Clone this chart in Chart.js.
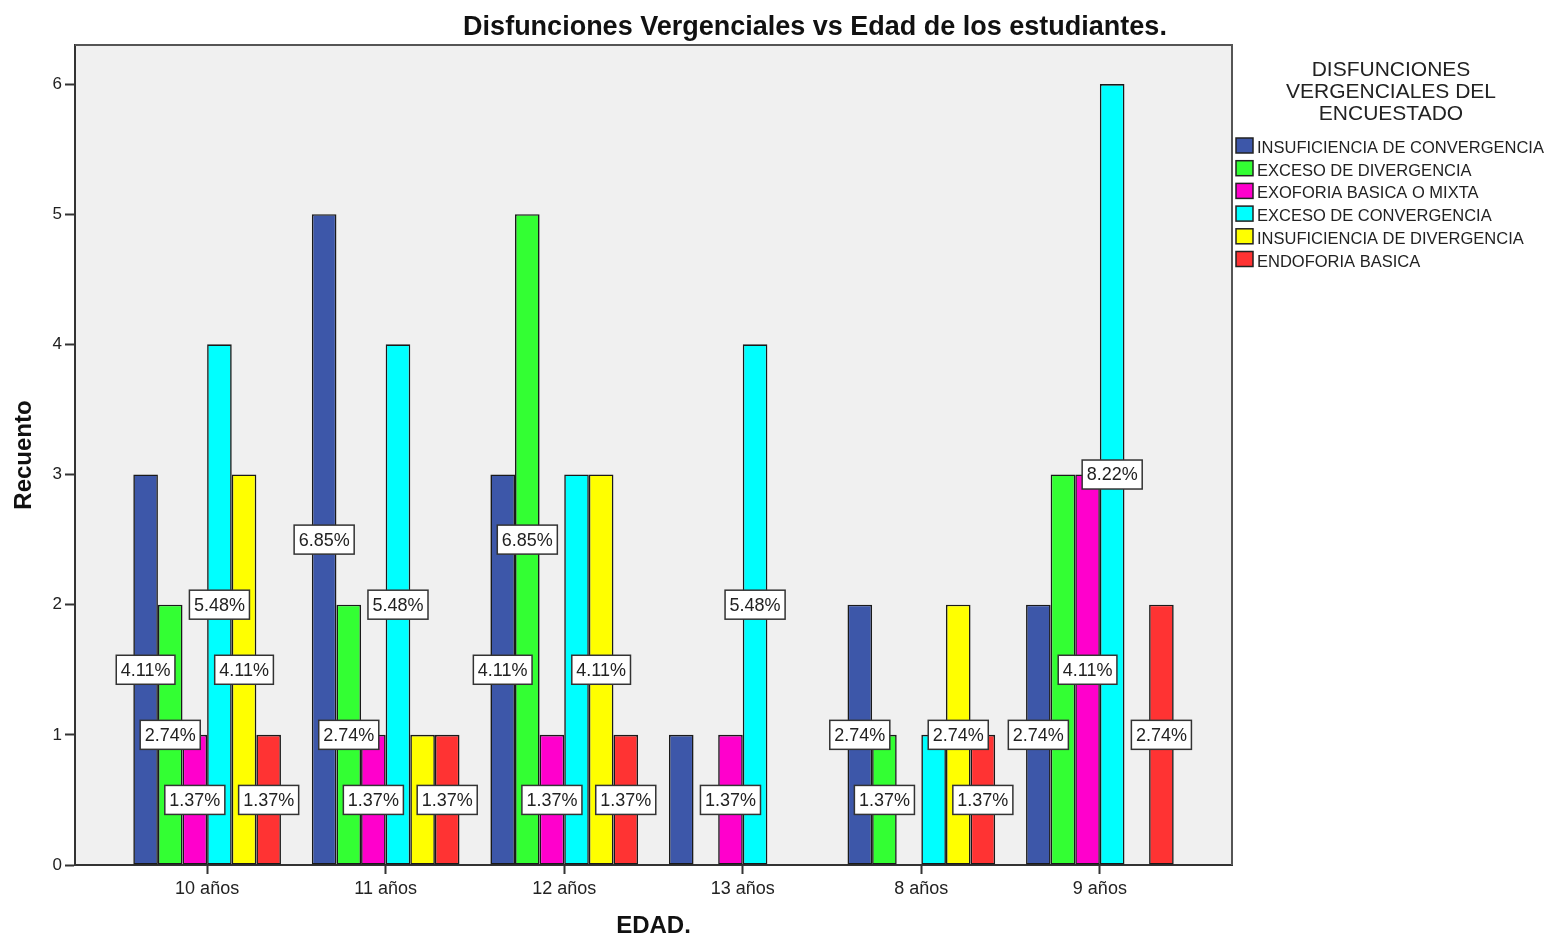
<!DOCTYPE html>
<html>
<head>
<meta charset="utf-8">
<title>Disfunciones Vergenciales vs Edad</title>
<script src="https://cdn.jsdelivr.net/npm/chart.js@4.4.1/dist/chart.umd.min.js"></script>
<style>
  html, body { margin: 0; padding: 0; background: #fff; }
  #wrap { width: 1548px; height: 941px; }
</style>
</head>
<body>
<div id="wrap"><canvas id="edadChart" width="1548" height="941"></canvas></div>
<script>
// Age groups, in the order the original chart shows them
const edades = ['10 años', '11 años', '12 años', '13 años', '8 años', '9 años'];

// Counts per disfunction, one value per age group
const insufConvergencia  = [3, 5, 3, 1, 2, 2];
const excesoDivergencia  = [2, 2, 5, 0, 1, 3];
const exoforiaBasica     = [1, 1, 1, 1, 0, 3];
const excesoConvergencia = [4, 4, 3, 4, 1, 6];
const insufDivergencia   = [3, 1, 3, 0, 2, 0];
const endoforiaBasica    = [1, 1, 1, 0, 1, 2];

const yTicks = [0, 1, 2, 3, 4, 5, 6];

const series = [
    { name: 'INSUFICIENCIA DE CONVERGENCIA', values: insufConvergencia, color: '#3d57a9' },
    { name: 'EXCESO DE DIVERGENCIA', values: excesoDivergencia, color: '#33ff33' },
    { name: 'EXOFORIA BASICA O MIXTA', values: exoforiaBasica, color: '#ff00cc' },
    { name: 'EXCESO DE CONVERGENCIA', values: excesoConvergencia, color: '#00ffff' },
    { name: 'INSUFICIENCIA DE DIVERGENCIA', values: insufDivergencia, color: '#ffff00' },
    { name: 'ENDOFORIA BASICA', values: endoforiaBasica, color: '#ff3333' }
];

const legendTitle = ['DISFUNCIONES', 'VERGENCIALES DEL', 'ENCUESTADO'];
const chartTitle = 'Disfunciones Vergenciales vs Edad de los estudiantes.';

const FONT = '"Liberation Sans", Arial, sans-serif';

// total of all counts, used for the percentage labels
const total = series.reduce((sum, s) => sum + s.values.reduce((a, b) => a + b, 0), 0);

// Grey plot background, frame, title and legend (SPSS look)
const spssLook = {
    id: 'spssLook',
    beforeDraw(chart) {
        const { ctx, chartArea } = chart;
        ctx.save();
        ctx.fillStyle = '#ffffff';
        ctx.fillRect(0, 0, chart.width, chart.height);
        ctx.fillStyle = '#f0f0f0';
        ctx.fillRect(chartArea.left, chartArea.top, chartArea.right - chartArea.left, chartArea.bottom - chartArea.top);
        ctx.restore();
    },
    afterDraw(chart) {
        const { ctx, chartArea } = chart;
        ctx.save();

        // top and right edges of the plot frame
        ctx.strokeStyle = '#555555';
        ctx.lineWidth = 2;
        ctx.beginPath();
        ctx.moveTo(chartArea.left, chartArea.top);
        ctx.lineTo(chartArea.right, chartArea.top);
        ctx.lineTo(chartArea.right, chartArea.bottom);
        ctx.stroke();

        // chart title
        ctx.fillStyle = '#111111';
        ctx.font = 'bold 27px ' + FONT;
        ctx.textAlign = 'center';
        ctx.textBaseline = 'alphabetic';
        ctx.fillText(chartTitle, 815, 35);

        // legend title
        const legendCenter = (chartArea.right + chart.width) / 2 + 1;
        ctx.fillStyle = '#222222';
        ctx.font = '21px ' + FONT;
        legendTitle.forEach((line, i) => {
            ctx.fillText(line, legendCenter, 76 + i * 22);
        });

        // legend items
        ctx.font = '16.5px ' + FONT;
        ctx.textAlign = 'left';
        series.forEach((s, i) => {
            const base = 153 + i * 22.7;
            ctx.fillStyle = s.color;
            ctx.fillRect(chartArea.right + 4, base - 15, 17, 15);
            ctx.strokeStyle = '#222222';
            ctx.lineWidth = 1.5;
            ctx.strokeRect(chartArea.right + 4, base - 15, 17, 15);
            ctx.fillStyle = '#222222';
            ctx.fillText(s.name, chartArea.right + 25, base);
        });
        ctx.restore();
    }
};

// Percentage labels in the middle of each bar; a label that would overlap
// one already placed is skipped, working from the last series to the first
const percentLabels = {
    id: 'percentLabels',
    afterDatasetsDraw(chart) {
        const ctx = chart.ctx;
        const yScale = chart.scales.y;
        const placed = [];
        ctx.save();
        ctx.font = '18px ' + FONT;
        ctx.textAlign = 'center';
        ctx.textBaseline = 'middle';
        for (let d = chart.data.datasets.length - 1; d >= 0; d--) {
            const meta = chart.getDatasetMeta(d);
            meta.data.forEach((bar, i) => {
                const v = chart.data.datasets[d].data[i].y;
                if (!v) return;
                const text = (v / total * 100).toFixed(2) + '%';
                const w = ctx.measureText(text).width + 9;
                const h = 29;
                const cx = bar.x;
                const cy = yScale.getPixelForValue(v / 2);
                const box = { l: cx - w / 2, r: cx + w / 2, t: cy - h / 2, b: cy + h / 2 };
                const hit = placed.some(p => p.l < box.r && box.l < p.r && p.t < box.b && box.t < p.b);
                if (hit) return;
                placed.push(box);
                ctx.fillStyle = '#ffffff';
                ctx.fillRect(box.l, box.t, w, h);
                ctx.strokeStyle = '#333333';
                ctx.lineWidth = 1.5;
                ctx.strokeRect(box.l, box.t, w, h);
                ctx.fillStyle = '#222222';
                ctx.fillText(text, cx, cy + 1);
            });
        }
        ctx.restore();
    }
};

const ctx = document.getElementById('edadChart').getContext('2d');
const edadChart = new Chart(ctx, {
    type: 'bar',
    data: {
        datasets: series.map(s => ({
            label: s.name,
            data: s.values.map((v, i) => ({ x: i, y: v })),
            backgroundColor: s.color,
            borderColor: '#1a1a1a',
            borderWidth: 1.6,
            borderSkipped: false,
            categoryPercentage: 0.827,
            barPercentage: 1
        }))
    },
    options: {
        responsive: false,
        animation: false,
        layout: {
            padding: { top: 45, right: 316, bottom: 0, left: 0 }
        },
        plugins: {
            legend: { display: false },
            title: { display: false },
            tooltip: { enabled: false }
        },
        scales: {
            x: {
                type: 'linear',
                min: -0.74,
                max: 5.74,
                offset: false,
                afterBuildTicks: scale => {
                    scale.ticks = edades.map((_, i) => ({ value: i }));
                },
                afterFit: scale => {
                    scale.height = 76;
                },
                ticks: {
                    callback: value => edades[value],
                    font: { family: FONT, size: 18 },
                    color: '#222222',
                    padding: 4,
                    maxRotation: 0,
                    autoSkip: false
                },
                grid: {
                    offset: false,
                    drawOnChartArea: false,
                    tickLength: 9,
                    tickColor: '#333333',
                    tickWidth: 2
                },
                border: { display: true, color: '#333333', width: 2 },
                title: {
                    display: true,
                    text: 'EDAD.',
                    color: '#111111',
                    font: { family: FONT, size: 24, weight: 'bold' },
                    padding: { top: 0, bottom: 0 }
                }
            },
            y: {
                min: 0,
                max: 6.3,
                afterBuildTicks: scale => {
                    scale.ticks = yTicks.map(v => ({ value: v }));
                },
                afterFit: scale => {
                    scale.width = 75;
                },
                ticks: {
                    font: { family: FONT, size: 17 },
                    color: '#222222',
                    padding: 3
                },
                grid: {
                    drawOnChartArea: false,
                    tickLength: 10,
                    tickColor: '#333333',
                    tickWidth: 2
                },
                border: { display: true, color: '#333333', width: 2 },
                title: {
                    display: true,
                    text: 'Recuento',
                    color: '#111111',
                    font: { family: FONT, size: 24, weight: 'bold' },
                    padding: { top: 10, bottom: 0 }
                }
            }
        }
    },
    plugins: [spssLook, percentLabels]
});
</script>
</body>
</html>
